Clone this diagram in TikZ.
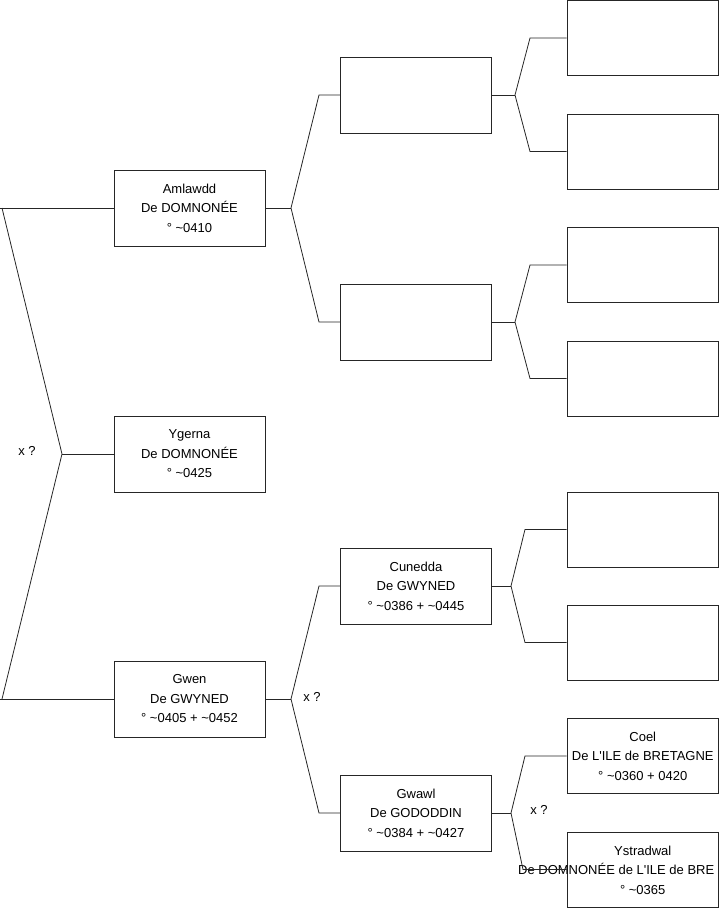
\documentclass[tikz,border=0pt]{standalone}
\usepackage{fontspec}
\setmainfont{Liberation Sans}[Ligatures=TeXOff]
\begin{document}
\begin{tikzpicture}[x=1pt,y=-1pt,
  box/.style={draw=black!85, line width=0.8pt, minimum width=151pt, minimum height=76pt,
    inner sep=0pt, align=center, font=\fontsize{13}{19.5}\selectfont},
  box3/.style={box, minimum width=151.5pt, minimum height=75pt},
  lnk/.style={draw=black!85, line width=0.8pt},
  lbl/.style={inner sep=0pt, font=\fontsize{13}{19.5}\selectfont}]
\useasboundingbox (0,0) rectangle (719,908);

% column 1
\node[box] (amlawdd) at (189.5,208) {Amlawdd\\De DOMNONÉE\\° \textasciitilde0410};
\node[box] (ygerna) at (189.5,454) {Ygerna\\De DOMNONÉE\\° \textasciitilde0425};
\node[box] (gwen) at (189.5,699) {Gwen\\De GWYNED\\° \textasciitilde0405 + \textasciitilde0452};
% column 2
\node[box] (p21) at (416,95) {};
\node[box] (p22) at (416,322) {};
\node[box] (cunedda) at (416,586) {Cunedda\\De GWYNED\\° \textasciitilde0386 + \textasciitilde0445};
\node[box] (gwawl) at (416,813) {Gwawl\\De GODODDIN\\° \textasciitilde0384 + \textasciitilde0427};
% column 3
\node[box3] (p31) at (642.75,38) {};
\node[box3] (p32) at (642.75,151.5) {};
\node[box3] (p33) at (642.75,265) {};
\node[box3] (p34) at (642.75,378.5) {};
\node[box3] (p35) at (642.75,529.5) {};
\node[box3] (p36) at (642.75,642.5) {};
\node[box3] (coel) at (642.75,756) {Coel\\De L'ILE de BRETAGNE\\° \textasciitilde0360 + 0420};
\node[box3] (ystradwal) at (642.75,869.5) {};
\node[lbl, anchor=base] (ys1) at (642.75,855) {Ystradwal};
\node[lbl, anchor=base west] (ys2) at (518,874.5) {De DOMNONÉE de L'ILE de BRE};
\node[lbl, anchor=base] (ys3) at (642.75,894) {° \textasciitilde0365};

% marriage labels
\node[lbl] (xr) at (27,451) {x ?};
\node[lbl] (xg) at (312,697) {x ?};
\node[lbl] (xw) at (539,810) {x ?};

% root fork
\coordinate (fr) at (62,454);
\coordinate (fr1) at (2,208);
\coordinate (fr2) at (2,699);
\coordinate (er1) at (0,208);
\coordinate (er2) at (0,699);
\draw[lnk] (ygerna.west) -- (fr);
\draw[lnk] (er1) -- (amlawdd.west);
\draw[lnk] (er2) -- (gwen.west);
\draw[lnk] (fr1) -- (fr) -- (fr2);

% Amlawdd fork
\coordinate (fa) at (291,208);
\coordinate (fa1) at (319,95);
\coordinate (fa2) at (319,322);
\draw[lnk] (amlawdd.east) -- (fa);
\draw[lnk] (p21.west) -- (fa1) -- (fa) -- (fa2) -- (p22.west);

% Gwen fork
\coordinate (fg) at (291,699);
\coordinate (fg1) at (319,586);
\coordinate (fg2) at (319,813);
\draw[lnk] (gwen.east) -- (fg);
\draw[lnk] (cunedda.west) -- (fg1) -- (fg) -- (fg2) -- (gwawl.west);

% p21 fork
\coordinate (f21) at (515,95);
\coordinate (f21a) at (530,38);
\coordinate (f21b) at (530,151.5);
\draw[lnk] (p21.east) -- (f21);
\draw[lnk] (p31.west) -- (f21a) -- (f21) -- (f21b) -- (p32.west);

% p22 fork
\coordinate (f22) at (515,322);
\coordinate (f22a) at (530,265);
\coordinate (f22b) at (530,378.5);
\draw[lnk] (p22.east) -- (f22);
\draw[lnk] (p33.west) -- (f22a) -- (f22) -- (f22b) -- (p34.west);

% Cunedda fork
\coordinate (fc) at (511,586);
\coordinate (fc1) at (525,529.5);
\coordinate (fc2) at (525,642.5);
\draw[lnk] (cunedda.east) -- (fc);
\draw[lnk] (p35.west) -- (fc1) -- (fc) -- (fc2) -- (p36.west);

% Gwawl fork
\coordinate (fw) at (511,813);
\coordinate (fw1) at (525,756);
\coordinate (fw2) at (523,869.5);
\draw[lnk] (gwawl.east) -- (fw);
\draw[lnk] (coel.west) -- (fw1) -- (fw) -- (fw2) -- (ystradwal.west);
\end{tikzpicture}
\end{document}
